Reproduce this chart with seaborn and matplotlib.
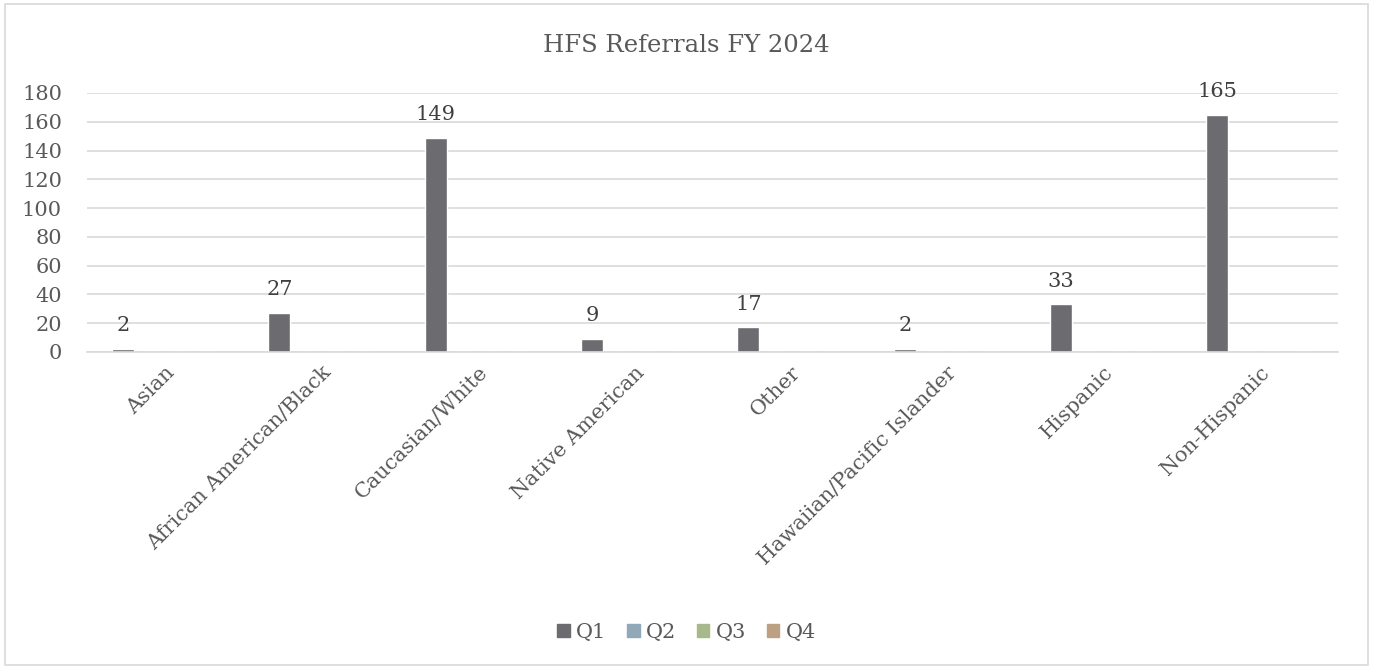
import pandas as pd
import matplotlib.pyplot as plt
import seaborn as sns
from matplotlib.patches import FancyBboxPatch

# Dados do gráfico
categorias = ["Asian", "African American/Black", "Caucasian/White", "Native American",
              "Other", "Hawaiian/Pacific Islander", "Hispanic", "Non-Hispanic"]
q1 = [2, 27, 149, 9, 17, 2, 33, 165]
q2 = [0, 0, 0, 0, 0, 0, 0, 0]
q3 = [0, 0, 0, 0, 0, 0, 0, 0]
q4 = [0, 0, 0, 0, 0, 0, 0, 0]
trimestres = ["Q1", "Q2", "Q3", "Q4"]
cores = ["#6c6b70", "#91a8b9", "#a7b98b", "#bba084"]

linhas = []
for trim, valores in zip(trimestres, [q1, q2, q3, q4]):
    for cat, v in zip(categorias, valores):
        linhas.append({"Categoria": cat, "Trimestre": trim, "Valor": v})
df = pd.DataFrame(linhas)

sns.set_style("white")
plt.rcParams['font.family'] = ['DejaVu Serif']
cinza = "#595959"

fig = plt.figure(figsize=(13.73, 6.69), dpi=100)
fig.patches.append(FancyBboxPatch((0.004, 0.006), 0.992, 0.988, boxstyle="square,pad=0",
                                  transform=fig.transFigure, fill=False,
                                  edgecolor="#d9d9d9", linewidth=1.2))
ax = fig.add_axes([0.0634, 0.474, 0.911, 0.387])

sns.barplot(data=df, x="Categoria", y="Valor", hue="Trimestre", palette=cores,
            saturation=1, width=0.72, gap=0.22, ax=ax, legend=False)

# Rótulos de dados só para Q1
ax.bar_label(ax.containers[0], labels=[str(v) for v in q1], padding=10,
             fontsize=15, color="#404040")

ax.set_ylim(0, 180)
ax.set_yticks(range(0, 181, 20))
ax.yaxis.grid(True, color="#d9d9d9", linewidth=1.2)
ax.set_axisbelow(True)
for s in ["top", "right", "left"]:
    ax.spines[s].set_visible(False)
ax.spines["bottom"].set_color("#d9d9d9")
ax.spines["bottom"].set_linewidth(1.2)
ax.tick_params(axis="both", length=0, labelsize=15, labelcolor=cinza)
ax.tick_params(axis="y", pad=18)
ax.set_xlabel("")
ax.set_ylabel("")
plt.setp(ax.get_xticklabels(), rotation=45, ha="right", rotation_mode="anchor")
ax.tick_params(axis="x", pad=8)

fig.text(0.5, 0.932, "HFS Referrals FY 2024", ha="center", va="center",
         fontsize=17.5, color=cinza)

handles = [plt.Rectangle((0, 0), 1, 1, color=c) for c in cores]
fig.legend(handles, trimestres, loc="center", bbox_to_anchor=(0.5, 0.055), ncol=4,
           frameon=False, fontsize=15, labelcolor=cinza, handlelength=0.6,
           handleheight=0.6, handletextpad=0.3, columnspacing=1.0)

fig.savefig("out.png", dpi=100)
